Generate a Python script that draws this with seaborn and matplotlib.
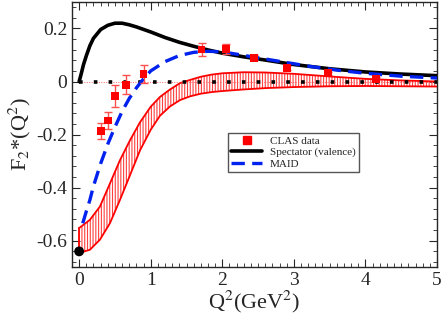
import seaborn as sns
import matplotlib.pyplot as plt
from matplotlib.ticker import MultipleLocator, FormatStrFormatter
from matplotlib.lines import Line2D

# CLAS data
clas_q2 = [0.30, 0.40, 0.50, 0.65, 0.90, 1.71, 2.05, 2.44, 2.91, 3.48, 4.15]
clas_f2 = [-0.187, -0.147, -0.054, -0.012, 0.028, 0.121, 0.123, 0.090, 0.051, 0.031, 0.010]
clas_err = [0.031, 0.031, 0.042, 0.036, 0.033, 0.025, 0.020, 0.010, 0.006, 0.006, 0.006]

# Spectator (valence)
spec_q2 = [0, 0.03, 0.06, 0.1, 0.15, 0.2, 0.3, 0.4, 0.5, 0.6, 0.7, 0.8, 1.0, 1.2, 1.4,
           1.6, 1.8, 2.0, 2.3, 2.6, 3.0, 3.5, 4.0, 4.5, 5.0]
spec_f2 = [0, 0.03, 0.063, 0.097, 0.135, 0.163, 0.196, 0.212, 0.22, 0.22, 0.214, 0.206,
           0.187, 0.166, 0.148, 0.133, 0.119, 0.107, 0.093, 0.081, 0.064, 0.048, 0.036,
           0.028, 0.022]

# MAID
maid_q2 = [0.05, 0.1, 0.15, 0.2, 0.3, 0.4, 0.5, 0.6, 0.7, 0.8, 0.9, 1.0, 1.2, 1.4, 1.6,
           1.8, 2.0, 2.4, 2.8, 3.2, 3.6, 4.0, 4.5, 5.0]
maid_f2 = [-0.535, -0.49, -0.447, -0.395, -0.31, -0.236, -0.172, -0.113, -0.064, -0.024,
           0.01, 0.04, 0.075, 0.098, 0.11, 0.114, 0.112, 0.094, 0.076, 0.058, 0.043,
           0.031, 0.020, 0.013]

# pion cloud band
band_q2 = [0, 0.15, 0.29, 0.43, 0.57, 0.71, 0.85, 1.0, 1.13, 1.27, 1.41, 1.55, 1.7, 1.85,
           2.0, 2.3, 2.6, 3.0, 3.5, 4.0, 4.5, 5.0]
band_hi = [-0.553, -0.522, -0.472, -0.385, -0.297, -0.222, -0.154, -0.095, -0.058, -0.03,
           -0.006, 0.006, 0.018, 0.026, 0.031, 0.035, 0.034, 0.029, 0.019, 0.01, 0.004, 0.0]
band_lo = [-0.647, -0.635, -0.597, -0.535, -0.447, -0.354, -0.26, -0.182, -0.129, -0.094,
           -0.07, -0.056, -0.046, -0.04, -0.036, -0.03, -0.025, -0.021, -0.018, -0.017,
           -0.018, -0.019]

point0_q2 = [0.0]
point0_f2 = [-0.641]

sns.set_style("ticks")
plt.rcParams["font.family"] = ["Liberation Serif", "DejaVu Serif"]
plt.rcParams["mathtext.fontset"] = "stix"
plt.rcParams["axes.unicode_minus"] = False
plt.rcParams["hatch.linewidth"] = 0.8

fig = plt.figure(figsize=(4.43, 3.17), dpi=100)
ax = fig.add_axes([0.1625, 0.1577, 0.824, 0.836])

red = "#ff0000"
ax.fill_between(band_q2, band_lo, band_hi, facecolor="none", edgecolor="#ff4040",
                hatch="||||||", linewidth=0, zorder=1)
sns.lineplot(x=band_q2, y=band_hi, color=red, lw=1.3, sort=False, ax=ax, zorder=2)
sns.lineplot(x=band_q2, y=band_lo, color=red, lw=1.3, sort=False, ax=ax, zorder=2)
ax.plot([0, 0], [band_lo[0], band_hi[0]], color=red, lw=1.3, zorder=2)

# zero lines
ax.plot([0, 5], [0, 0], color="#ff6666", lw=0.7, ls=(0, (1, 1.5)), zorder=2)
ax.plot([0, 5], [0, 0], color="black", lw=2.6, ls=(0, (1, 3.1)),
        dash_capstyle="butt", zorder=3)

sns.lineplot(x=spec_q2, y=spec_f2, color="black", lw=2.6, sort=False, ax=ax, zorder=4)
sns.lineplot(x=maid_q2, y=maid_f2, color="#0022ee", lw=2.4, sort=False, ax=ax,
             linestyle=(0, (4, 2.2)), zorder=5)

ax.errorbar(clas_q2, clas_f2, yerr=clas_err, fmt="none", ecolor="#ff5050",
            elinewidth=1.0, capsize=3, capthick=1.0, zorder=6)
sns.scatterplot(x=clas_q2, y=clas_f2, marker="s", color=red, s=32, edgecolor="none",
                ax=ax, zorder=7)
sns.scatterplot(x=point0_q2, y=point0_f2, color="black", s=50, edgecolor="none",
                ax=ax, zorder=8, clip_on=False)

ax.set_xlim(-0.1, 5)
ax.set_ylim(-0.7, 0.3)
ax.xaxis.set_major_locator(MultipleLocator(1))
ax.xaxis.set_minor_locator(MultipleLocator(0.1))
ax.yaxis.set_major_locator(MultipleLocator(0.2))
ax.yaxis.set_minor_locator(MultipleLocator(0.04))
ax.yaxis.set_major_formatter(FormatStrFormatter("%g"))
ax.tick_params(which="both", direction="in", top=True, right=True, labelsize=14)
ax.tick_params(which="major", length=6, width=0.8)
ax.tick_params(which="minor", length=3, width=0.6)
for s in ax.spines.values():
    s.set_linewidth(1.0)

ax.set_xlabel("Q$^2$(GeV$^2$)", fontsize=16, labelpad=0)
ax.set_ylabel("F$_2$*(Q$^2$)", fontsize=16, labelpad=2)

handles = [
    Line2D([], [], marker="s", color=red, ls="none", markersize=6),
    Line2D([], [], color="black", lw=2.6),
    Line2D([], [], color="#0022ee", lw=2.4, ls=(0, (4, 2.2))),
]
leg = ax.legend(handles, ["CLAS data", "Spectator (valence)", "MAID"],
                loc="upper left", bbox_to_anchor=(0.427, 0.507), borderaxespad=0,
                fontsize=8, frameon=True, fancybox=False, edgecolor="#555555",
                framealpha=1, handlelength=2.8, borderpad=0.3, labelspacing=0.15,
                handletextpad=0.7)
leg.get_frame().set_linewidth(1.0)

plt.savefig("out.png", dpi=100)
